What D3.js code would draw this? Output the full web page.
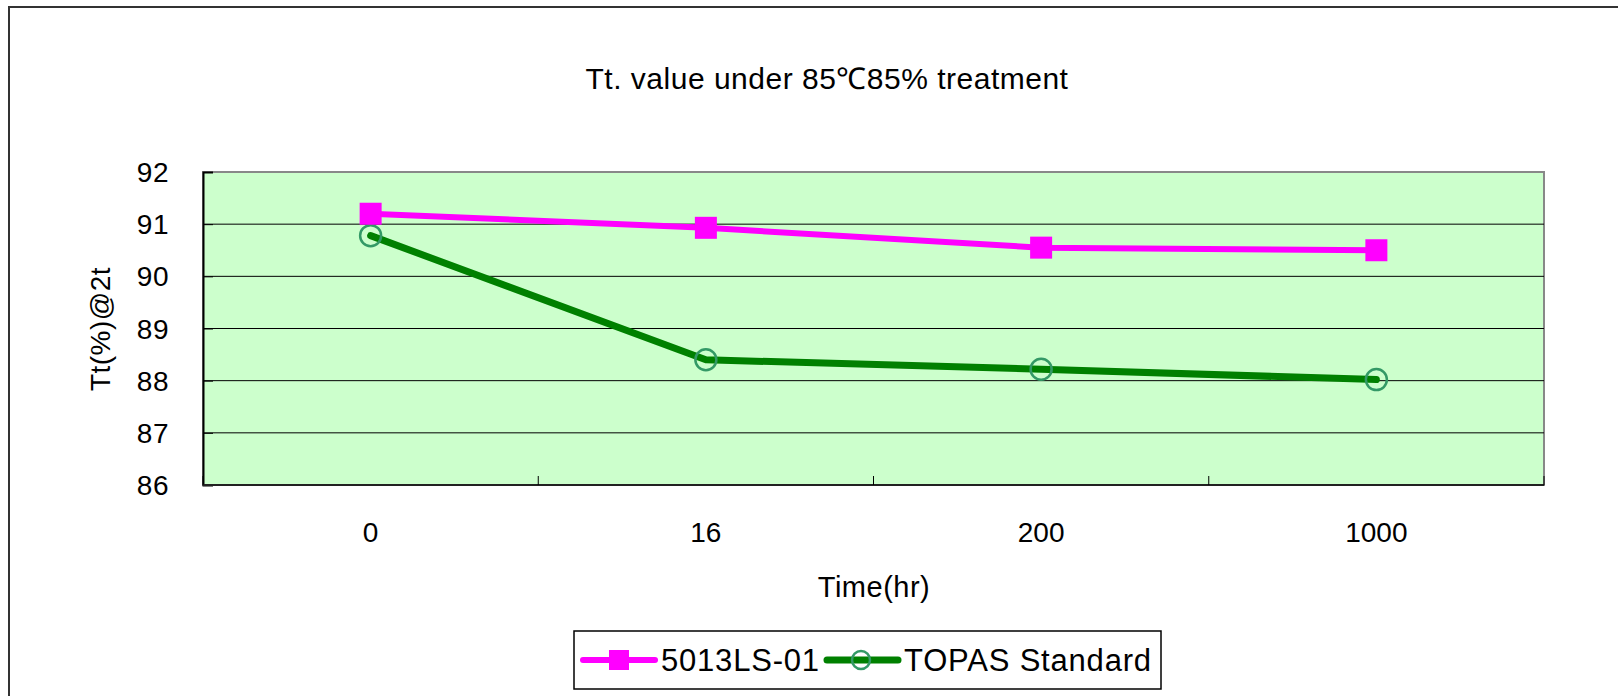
<!DOCTYPE html>
<html>
<head>
<meta charset="utf-8">
<script src="https://cdn.jsdelivr.net/npm/d3@7"></script>
<style>
  body { margin: 0; background: #fff; }
  text { font-family: "Liberation Sans", Arial, sans-serif; fill: #000; }
</style>
</head>
<body>
<script>
// Tt value chart, 85C/85% treatment

var width = 1618,
    height = 696;

// data
var times = ["0", "16", "200", "1000"];
var yTicks = [86, 87, 88, 89, 90, 91, 92];
var series5013 = [91.2, 90.93, 90.55, 90.5];
var seriesTopas = [90.78, 88.4, 88.22, 88.02];
var seriesNames = ["5013LS-01", "TOPAS Standard"];

var plot = {left: 203, top: 172, right: 1544, bottom: 485};

var svg = d3.select('body')
            .append('svg')
            .attr('width', width)
            .attr('height', height);

svg.append("rect")
   .attr("width", width)
   .attr("height", height)
   .attr("fill", "#fff");

// chart area border (runs off the right and bottom)
svg.append("rect")
   .attr("x", 9).attr("y", 7)
   .attr("width", 1700).attr("height", 800)
   .attr("fill", "none")
   .attr("stroke", "#333")
   .attr("stroke-width", 2);

var x = d3.scaleBand()
          .domain(times)
          .range([plot.left, plot.right])
          .padding(0);

var y = d3.scaleLinear()
          .domain([86, 92])
          .range([plot.bottom, plot.top]);

// plot background
svg.append("rect")
   .attr("x", plot.left).attr("y", plot.top)
   .attr("width", plot.right - plot.left)
   .attr("height", plot.bottom - plot.top)
   .attr("fill", "#ccffcc")
   .attr("stroke", "#888")
   .attr("stroke-width", 2);

// gridlines
svg.append("g")
   .selectAll("line")
   .data(yTicks.filter(function(d) { return d > 86 && d < 92; }))
   .enter().append("line")
   .attr("x1", plot.left).attr("x2", plot.right)
   .attr("y1", function(d) { return y(d); })
   .attr("y2", function(d) { return y(d); })
   .attr("stroke", "#000")
   .attr("stroke-width", 1);

// y axis
var yAxis = svg.append("g")
   .attr("transform", "translate(" + plot.left + ",0)")
   .call(d3.axisRight(y).tickValues(yTicks).tickSize(10).tickFormat(""));
yAxis.select(".domain").attr("stroke", "#000").attr("stroke-width", 2);

svg.append("g")
   .selectAll("text")
   .data(yTicks)
   .enter().append("text")
   .attr("x", 169)
   .attr("y", function(d) { return y(d); })
   .attr("dy", "0.36em")
   .attr("text-anchor", "end")
   .style("font-size", "28px")
   .style("letter-spacing", "0.5px")
   .text(function(d) { return d; });

// x axis, ticks between categories
var xBounds = times.map(function(t) { return x(t); }).concat([plot.right]);
var xAxis = svg.append("g")
   .attr("transform", "translate(0," + plot.bottom + ")");
xAxis.append("line")
   .attr("x1", plot.left).attr("x2", plot.right)
   .attr("stroke", "#222").attr("stroke-width", 2);
xAxis.selectAll(".tk")
   .data(xBounds)
   .enter().append("line")
   .attr("class", "tk")
   .attr("x1", function(d) { return d; })
   .attr("x2", function(d) { return d; })
   .attr("y1", 0).attr("y2", -9)
   .attr("stroke", "#000");

svg.append("g")
   .selectAll("text")
   .data(times)
   .enter().append("text")
   .attr("x", function(d) { return x(d) + x.bandwidth() / 2; })
   .attr("y", 542)
   .attr("text-anchor", "middle")
   .style("font-size", "28px")
   .text(function(d) { return d; });

// titles
svg.append("text")
   .attr("x", 827).attr("y", 89)
   .attr("text-anchor", "middle")
   .style("font-size", "30px")
   .style("letter-spacing", "0.5px")
   .text("Tt. value under 85℃85% treatment");

svg.append("text")
   .attr("x", 874).attr("y", 597)
   .attr("text-anchor", "middle")
   .style("font-size", "29px")
   .style("letter-spacing", "0.5px")
   .text("Time(hr)");

svg.append("text")
   .attr("transform", "translate(110,329) rotate(-90)")
   .attr("text-anchor", "middle")
   .style("font-size", "28px")
   .style("letter-spacing", "0.5px")
   .text("Tt(%)@2t");

// lines
var cx = function(d, i) { return x(times[i]) + x.bandwidth() / 2; };
var line = d3.line()
   .x(cx)
   .y(function(d) { return y(d); });

svg.append("path")
   .datum(seriesTopas)
   .attr("d", line)
   .attr("fill", "none")
   .attr("stroke", "#008000")
   .attr("stroke-width", 7)
   .attr("stroke-linecap", "round")
   .attr("stroke-linejoin", "round");

svg.append("g")
   .selectAll("circle")
   .data(seriesTopas)
   .enter().append("circle")
   .attr("cx", cx)
   .attr("cy", function(d) { return y(d); })
   .attr("r", 10.5)
   .attr("fill", "none")
   .attr("stroke", "#339966")
   .attr("stroke-width", 2.5);

svg.append("path")
   .datum(series5013)
   .attr("d", line)
   .attr("fill", "none")
   .attr("stroke", "#ff00ff")
   .attr("stroke-width", 6)
   .attr("stroke-linejoin", "round");

svg.append("g")
   .selectAll("rect")
   .data(series5013)
   .enter().append("rect")
   .attr("x", function(d, i) { return cx(d, i) - 11; })
   .attr("y", function(d) { return y(d) - 11; })
   .attr("width", 22).attr("height", 22)
   .attr("fill", "#ff00ff");

// legend
var lg = svg.append("g");
lg.append("rect")
  .attr("x", 574).attr("y", 631)
  .attr("width", 587).attr("height", 58)
  .attr("fill", "#fff")
  .attr("stroke", "#000")
  .attr("stroke-width", 1.5);

var ly = 660;
lg.append("line")
  .attr("x1", 583).attr("x2", 655).attr("y1", ly).attr("y2", ly)
  .attr("stroke", "#ff00ff").attr("stroke-width", 6).attr("stroke-linecap", "round");
lg.append("rect")
  .attr("x", 609).attr("y", ly - 10).attr("width", 20).attr("height", 20)
  .attr("fill", "#ff00ff");
lg.append("text")
  .attr("x", 661).attr("y", ly).attr("dy", "0.36em")
  .style("font-size", "31px")
  .style("letter-spacing", "0.8px")
  .text(seriesNames[0]);

lg.append("line")
  .attr("x1", 827).attr("x2", 898).attr("y1", ly).attr("y2", ly)
  .attr("stroke", "#008000").attr("stroke-width", 7).attr("stroke-linecap", "round");
lg.append("circle")
  .attr("cx", 861).attr("cy", ly).attr("r", 9)
  .attr("fill", "none").attr("stroke", "#339966").attr("stroke-width", 2.5);
lg.append("text")
  .attr("x", 904).attr("y", ly).attr("dy", "0.36em")
  .style("font-size", "31px")
  .style("letter-spacing", "0.8px")
  .text(seriesNames[1]);
</script>
</body>
</html>
